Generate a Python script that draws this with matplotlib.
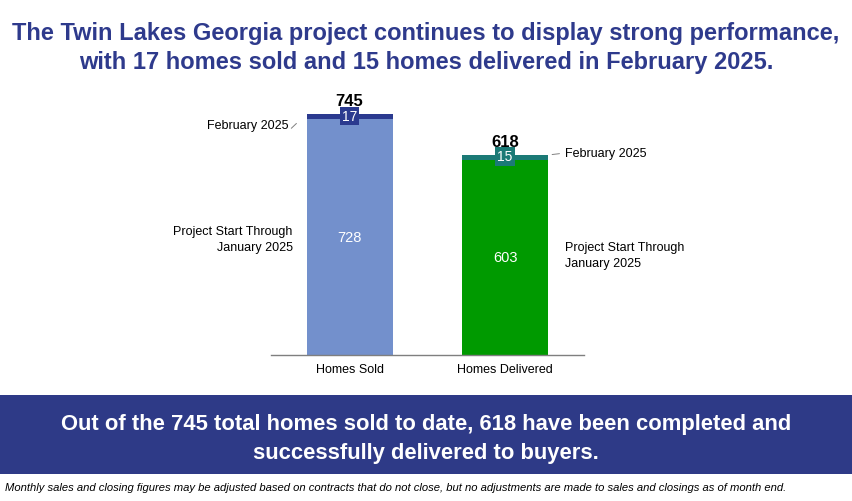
import matplotlib.pyplot as plt
from matplotlib.patches import Rectangle

plt.rcParams['font.family'] = ['Liberation Sans', 'DejaVu Sans']

# data
categories = ['Homes Sold', 'Homes Delivered']
through_jan = [728, 603]
february = [17, 15]
totals = [a + b for a, b in zip(through_jan, february)]

base_colors = ['#7390cc', '#009a00']
feb_colors = ['#2b3a8f', '#1b7a76']
navy = '#2e3a8c'

W, H = 852, 502
fig = plt.figure(figsize=(W / 100, H / 100), dpi=100)

# axes placed so the baseline sits where it is in the picture
ax = fig.add_axes([271 / W, 1 - 356 / H, 313 / W, 266 / H])
x = range(len(categories))
width = 0.553
ax.bar(x, through_jan, width=width, color=base_colors)
ax.bar(x, february, width=width, bottom=through_jan, color=feb_colors)
ax.set_xlim(-0.505, 1.508)
ax.set_ylim(0, 822)
ax.set_yticks([])
ax.set_xticks(list(x))
ax.set_xticklabels(categories, fontsize=9)
ax.tick_params(axis='x', length=0, pad=6)
for s in ['top', 'left', 'right']:
    ax.spines[s].set_visible(False)
ax.spines['bottom'].set_color('#7f7f7f')
ax.spines['bottom'].set_linewidth(1.0)

for i in x:
    # bottom segment value
    ax.text(i, through_jan[i] / 2, str(through_jan[i]), color='white',
            ha='center', va='center', fontsize=10.5)
    # february box
    ax.text(i, through_jan[i] + february[i] / 2 + 3, str(february[i]), color='white',
            ha='center', va='center', fontsize=10,
            bbox=dict(boxstyle='square,pad=0.15', fc=feb_colors[i], ec='none'))
    # total on top
    ax.annotate(str(totals[i]), xy=(i, totals[i]), xytext=(0, 9),
                textcoords='offset pixels', ha='center', va='baseline',
                fontsize=12, fontweight='bold')

# side labels
ax.annotate('February 2025', xy=(0 - width / 2, totals[0]),
            xytext=(-18, -14), textcoords='offset pixels', ha='right', va='baseline',
            fontsize=9, arrowprops=dict(arrowstyle='-', color='#808080', lw=0.7,
                                        relpos=(1, 0), shrinkA=0, shrinkB=10))
ax.annotate('Project Start Through\nJanuary 2025', xy=(0 - width / 2, through_jan[0] / 2),
            xytext=(-14, -2), textcoords='offset pixels', ha='right', va='center',
            multialignment='right', fontsize=9, linespacing=1.45)
ax.annotate('February 2025', xy=(1 + width / 2, totals[1]),
            xytext=(17, -1), textcoords='offset pixels', ha='left', va='baseline',
            fontsize=9, arrowprops=dict(arrowstyle='-', color='#808080', lw=0.7,
                                        relpos=(0, 0.5), shrinkA=2, shrinkB=3))
ax.annotate('Project Start Through\nJanuary 2025', xy=(1 + width / 2, through_jan[1] / 2),
            xytext=(17, 2), textcoords='offset pixels', ha='left', va='center',
            multialignment='left', fontsize=9, linespacing=1.45)

# title
fig.text(0.5, 1 - 48 / H,
         'The Twin Lakes Georgia project continues to display strong performance,\n'
         'with 17 homes sold and 15 homes delivered in February 2025.',
         ha='center', va='center', fontsize=17, fontweight='bold', color=navy,
         linespacing=1.32)

# bottom banner
fig.patches.append(Rectangle((0, 1 - 475 / H), 1, 79 / H, transform=fig.transFigure,
                             fc='#2e3a87', ec='none', zorder=0))
fig.text(0.5, 1 - 439 / H,
         'Out of the 745 total homes sold to date, 618 have been completed and\n'
         'successfully delivered to buyers.',
         ha='center', va='center', fontsize=15.8, fontweight='bold', color='white',
         linespacing=1.45)

fig.text(5 / W, 1 - 491 / H,
         'Monthly sales and closing figures may be adjusted based on contracts that do not close, '
         'but no adjustments are made to sales and closings as of month end.',
         ha='left', va='baseline', fontsize=8.1, style='italic')

fig.savefig('out.png', dpi=100)
